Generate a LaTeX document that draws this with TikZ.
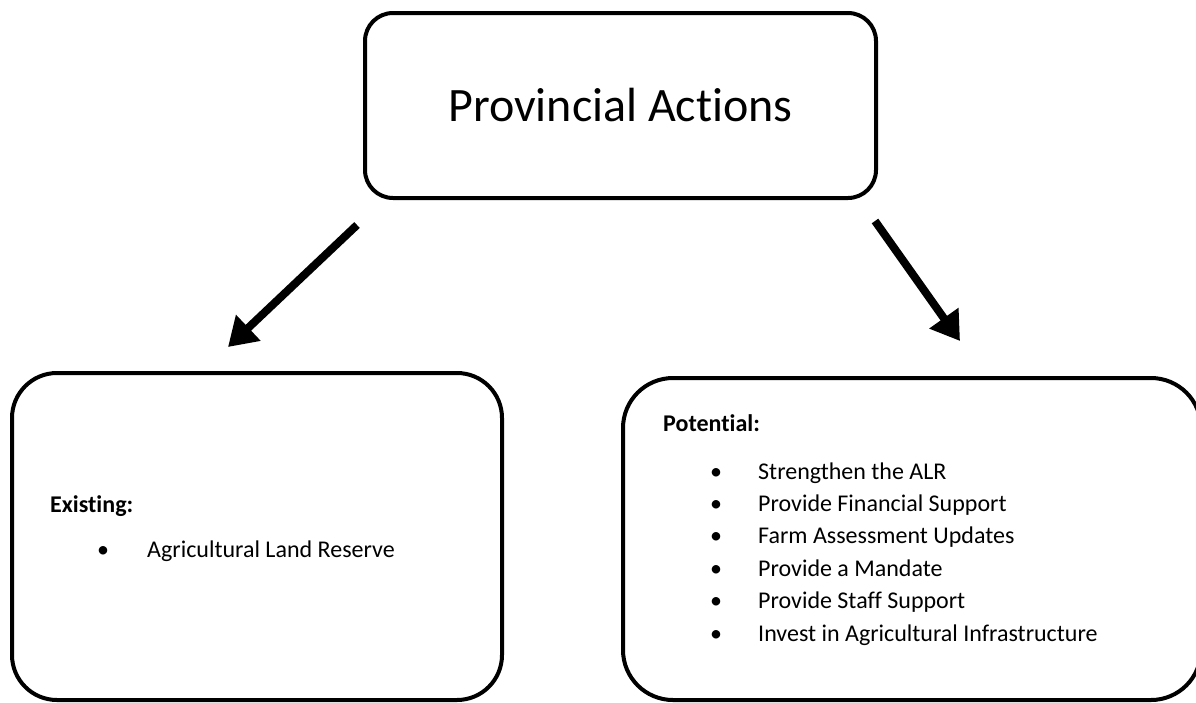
\documentclass[tikz,border=0pt]{standalone}
\usepackage{fontspec}
\setmainfont{Carlito}[Ligatures=NoCommon]
\usetikzlibrary{arrows.meta}

\tikzset{
  box/.style={draw, line width=4pt, rounded corners=#1, inner sep=0pt},
  box/.default=45pt,
  txt/.style={anchor=base west, inner sep=0pt, font=\fontsize{24}{29}\selectfont},
  lbl/.style={anchor=base west, inner sep=0pt, font=\bfseries\fontsize{24}{29}\selectfont},
  dot/.style={anchor=base, inner sep=0pt, font=\fontsize{24}{29}\selectfont},
  arr/.style={line width=8pt, -{Triangle[length=28pt,width=34pt]}}
}

\begin{document}
\begin{tikzpicture}[x=1pt,y=-1pt]
  \clip (0,0) rectangle (1196,702);
  % top box
  \node[box=28pt, minimum width=511pt, minimum height=185pt,
        font=\fontsize{48}{58}\selectfont] (prov) at (620.5,105.5) {Provincial Actions};
  % bottom boxes
  \node[box, minimum width=490pt, minimum height=327pt] (exist) at (257,536.5) {};
  \node[box=50pt, minimum width=578pt, minimum height=322pt] (potent) at (912,539) {};
  % left box text
  \node[lbl] (existlbl) at (50,512) {Existing:};
  \node[dot] (alrdot) at (103,557) {•};
  \node[txt] (alr) at (147,557) {Agricultural Land Reserve};
  % right box text
  \node[lbl] (potlbl) at (663,431) {Potential:};
  \foreach \t [count=\i] in {Strengthen the ALR, Provide Financial Support,
      Farm Assessment Updates, Provide a Mandate, Provide Staff Support,
      Invest in Agricultural Infrastructure} {
    \node[dot] (dot\i) at (716,{479+32.4*(\i-1)}) {•};
    \node[txt] (item\i) at (758,{479+32.4*(\i-1)}) {\t};
  }
  % arrows
  \coordinate (ltail) at (357,225);
  \coordinate (ltip) at (228,347);
  \coordinate (rtail) at (875,221);
  \coordinate (rtip) at (960,341);
  \draw[arr] (ltail) -- (ltip);
  \draw[arr] (rtail) -- (rtip);
\end{tikzpicture}
\end{document}
